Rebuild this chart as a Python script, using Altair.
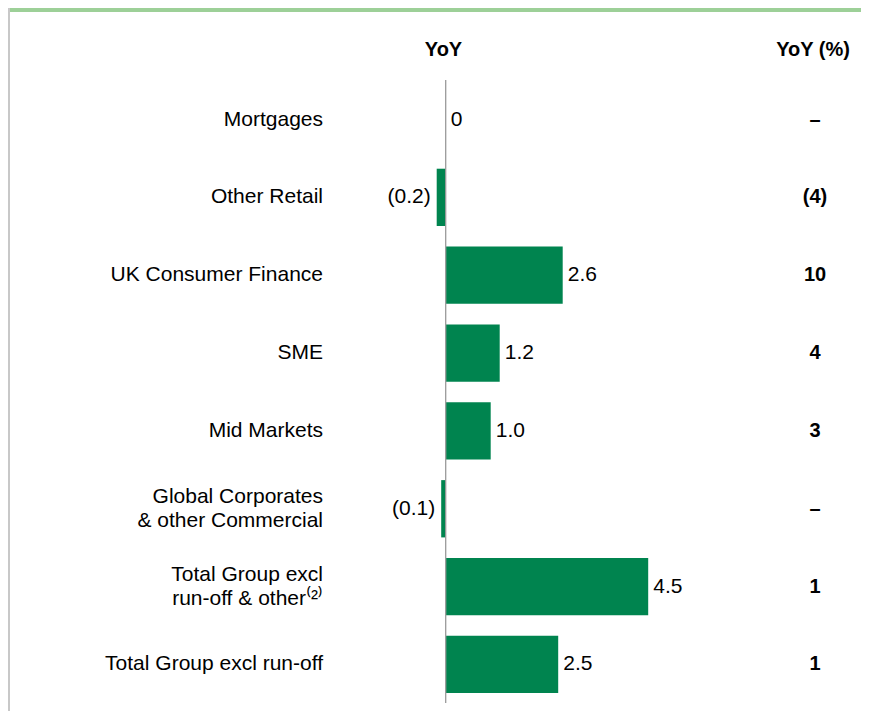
import altair as alt
import pandas as pd

categories = [
    "Mortgages",
    "Other Retail",
    "UK Consumer Finance",
    "SME",
    "Mid Markets",
    "Global Corporates\n& other Commercial",
    "Total Group excl\nrun-off & other\u207d\u00b2\u207e",
    "Total Group excl run-off",
]
yoy = [0, -0.2, 2.6, 1.2, 1.0, -0.1, 4.5, 2.5]
yoy_pct = ["\u2013", "(4)", "10", "4", "3", "\u2013", "1", "1"]
headers = ["YoY", "YoY (%)"]

df = pd.DataFrame({"cat": categories, "v": yoy, "pct": yoy_pct})
hdr_df = pd.DataFrame({"h": headers, "hx": [435.5, 805]})
zero_df = pd.DataFrame({"v": [0]})
one_df = pd.DataFrame({"a": [1]})

FONT = "Liberation Sans"
GREEN = "#00844f"
W, H = 853, 703
ZERO_PX = 437.7
PX_PER_UNIT = 45.0
xdom = [-ZERO_PX / PX_PER_UNIT, (W - ZERO_PX) / PX_PER_UNIT]

yscale = alt.Scale(domain=categories, paddingInner=0.264, paddingOuter=0.647, align=0.8225)
xscale = alt.Scale(domain=xdom, nice=False, zero=False)

base = alt.Chart(df)
Y = alt.Y("cat:N", sort=categories, scale=yscale, axis=None)
X = alt.X("v:Q", scale=xscale, axis=None)

bars = base.mark_bar(color=GREEN).encode(y=Y, x=X)

label_expr = "datum.v < 0 ? '(' + format(-datum.v, '.1f') + ')' : (datum.v == 0 ? '0' : format(datum.v, '.1f'))"

pos_labels = base.transform_filter("datum.v >= 0").transform_calculate(lbl=label_expr).mark_text(
    align="left", baseline="middle", dx=5, font=FONT, fontSize=21, color="#000"
).encode(y=Y, x=X, text="lbl:N")

neg_labels = base.transform_filter("datum.v < 0").transform_calculate(lbl=label_expr).mark_text(
    align="right", baseline="middle", dx=-6, font=FONT, fontSize=21, color="#000"
).encode(y=Y, x=X, text="lbl:N")

cat_single = base.transform_filter("indexof(datum.cat, '\\n') < 0").mark_text(
    align="right", baseline="middle", font=FONT, fontSize=21, color="#000"
).encode(y=Y, x=alt.value(315), text="cat:N")

cat_multi = base.transform_filter("indexof(datum.cat, '\\n') >= 0").mark_text(
    align="right", baseline="middle", font=FONT, fontSize=21, color="#000",
    lineBreak="\n", lineHeight=24, dy=-12
).encode(y=Y, x=alt.value(315), text="cat:N")

pct_labels = base.mark_text(
    align="center", baseline="middle", font=FONT, fontSize=20, fontWeight="bold", color="#000"
).encode(y=Y, x=alt.value(807), text="pct:N")

zero_rule = alt.Chart(zero_df).mark_rule(color="#9a9a9a", strokeWidth=1.3).encode(
    x=X, y=alt.value(72), y2=alt.value(695)
)

hdr = alt.Chart(hdr_df).mark_text(
    align="center", baseline="middle", font=FONT, fontSize=20, fontWeight="bold", color="#000"
).encode(x=alt.X("hx:Q", scale=None), y=alt.value(41.5), text="h:N")

band = alt.Chart(one_df).mark_rect(color="#9dd098").encode(
    x=alt.value(2), x2=alt.value(W), y=alt.value(0), y2=alt.value(4)
)
border = alt.Chart(one_df).mark_rect(color="#c8c8c8").encode(
    x=alt.value(0), x2=alt.value(2), y=alt.value(0), y2=alt.value(H)
)

chart = alt.layer(
    band, border, bars, zero_rule, pos_labels, neg_labels, cat_single, cat_multi, pct_labels, hdr
).properties(
    width=W, height=H, padding=0, autosize=alt.AutoSizeParams(type="none")
).configure_view(stroke=None)

chart.save("out.html", embed_options={"renderer": "svg", "actions": False})
